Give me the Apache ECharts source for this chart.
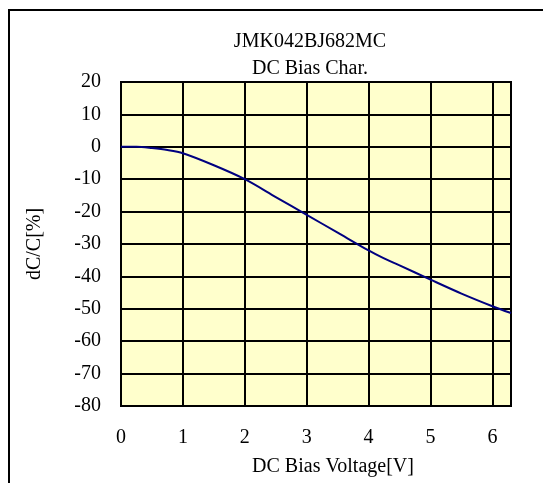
<!DOCTYPE html>
<html>
<head>
<meta charset="utf-8">
<script src="https://cdn.jsdelivr.net/npm/echarts@6/dist/echarts.min.js"></script>
<style>
html,body{margin:0;padding:0;background:#fff;}
#c{width:543px;height:483px;}
</style>
</head>
<body>
<div id="c"></div>
<script>
var titleLines = ['JMK042BJ682MC', 'DC Bias Char.'];
var xName = 'DC Bias Voltage[V]';
var yName = 'dC/C[%]';
var voltage = [0, 0.25, 0.5, 0.75, 1, 1.5, 2, 2.5, 3, 3.5, 4, 4.2, 4.5, 5, 5.5, 6, 6.3];
var dcc = [0, 0, -0.4, -1, -2, -5.7, -10, -15.5, -21, -26.5, -32, -34, -36.6, -41, -45.3, -49.2, -51.3];

var chart = echarts.init(document.getElementById('c'));
var font = 'Liberation Serif, Times New Roman, serif';
var data = voltage.map(function (v, i) { return [v, dcc[i]]; });

chart.setOption({
  animation: false,
  title: {
    text: titleLines.join('\n'),
    left: 305,
    top: 23,
    textAlign: 'center',
    textStyle: { fontFamily: font, fontSize: 20, fontWeight: 'normal', color: '#000', lineHeight: 27 }
  },
  graphic: [{
    type: 'rect',
    shape: { x: 9, y: 10, width: 700, height: 700 },
    style: { fill: 'none', stroke: '#000', lineWidth: 2 },
    silent: true
  }],
  grid: {
    left: 121, top: 82, right: 32, bottom: 77,
    show: true,
    backgroundColor: '#FFFFCC',
    borderColor: '#000',
    borderWidth: 2
  },
  xAxis: {
    type: 'value',
    min: 0, max: 6.3, interval: 1,
    name: xName,
    nameLocation: 'middle',
    nameGap: 51,
    nameTextStyle: { fontFamily: font, fontSize: 20, color: '#000', padding: [0, 0, 0, 34] },
    axisLine: { show: true, lineStyle: { color: '#000', width: 2 } },
    axisTick: { show: false },
    axisLabel: { fontFamily: font, fontSize: 20, color: '#000', margin: 22, showMaxLabel: false },
    splitLine: { show: true, lineStyle: { color: '#000', width: 2 } }
  },
  yAxis: {
    type: 'value',
    min: -80, max: 20, interval: 10,
    name: yName,
    nameLocation: 'middle',
    nameGap: 76,
    nameTextStyle: { fontFamily: font, fontSize: 20, color: '#000' },
    axisLine: { show: true, lineStyle: { color: '#000', width: 2 } },
    axisTick: { show: false },
    axisLabel: { fontFamily: font, fontSize: 20, color: '#000', margin: 20 },
    splitLine: { show: true, lineStyle: { color: '#000', width: 2 } }
  },
  series: [{
    type: 'line',
    data: data,
    smooth: 0.3,
    showSymbol: false,
    lineStyle: { color: '#000080', width: 2 }
  }]
});
</script>
</body>
</html>
